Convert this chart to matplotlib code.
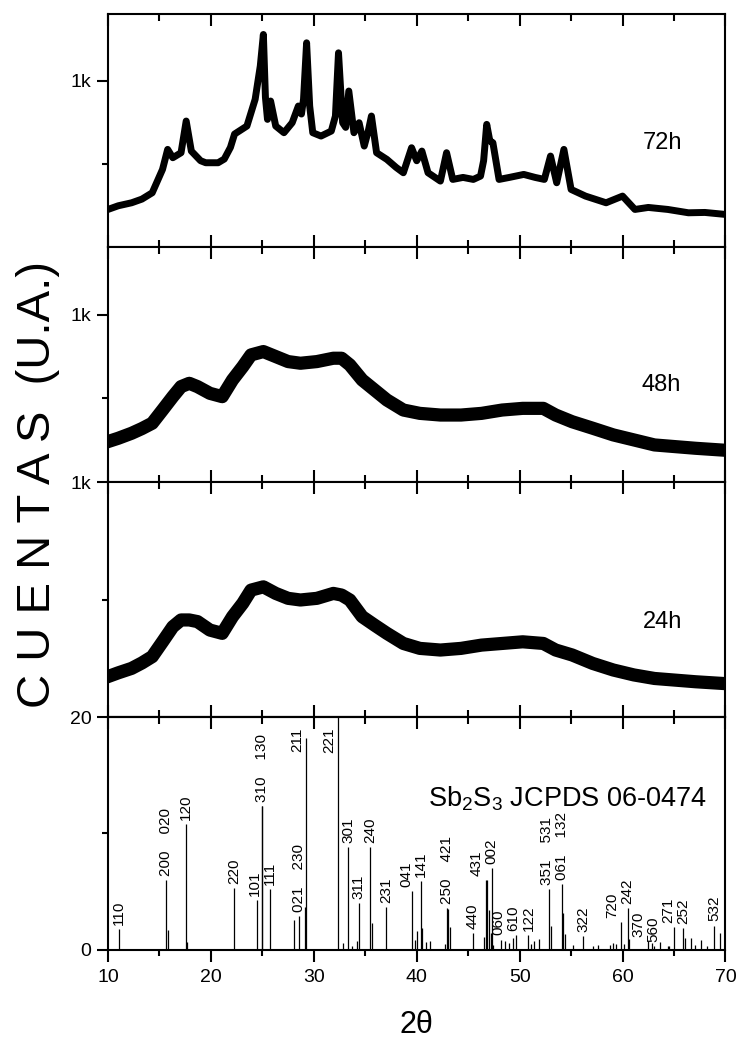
import matplotlib
matplotlib.use('Agg')
import matplotlib.pyplot as plt

plt.rcParams['font.family'] = ['Liberation Sans', 'DejaVu Sans']
plt.rcParams['mathtext.default'] = 'regular'

# 72h pattern
x72 = [10.0, 11.0, 12.3, 13.3, 14.3, 15.3, 15.8, 16.3, 17.1, 17.6, 18.1, 19.0, 19.5, 20.7,
       21.3, 21.9, 22.3, 23.5, 24.3, 24.8, 25.1, 25.3, 25.5, 25.8, 26.3, 27.1, 27.9, 28.5,
       28.8, 29.0, 29.3, 29.6, 29.9, 30.7, 31.7, 32.1, 32.4, 32.8, 33.1, 33.4, 33.9, 34.4,
       34.9, 35.3, 35.6, 36.1, 37.1, 38.0, 38.7, 39.5, 40.0, 40.5, 41.1, 42.3, 42.9, 43.5,
       44.5, 45.5, 46.2, 46.5, 46.8, 47.1, 47.4, 48.0, 49.0, 50.4, 51.5, 52.4, 53.0, 53.6,
       54.3, 55.0, 56.4, 58.4, 60.0, 61.2, 62.5, 64.4, 66.4, 68.0, 70.0]
y72 = [228, 250, 268, 290, 328, 468, 588, 538, 568, 758, 578, 520, 508, 508,
       530, 600, 680, 728, 888, 1088, 1277, 900, 768, 878, 728, 688, 748, 848,
       800, 888, 1227, 848, 688, 668, 698, 788, 1167, 748, 720, 938, 688, 748,
       608, 700, 788, 568, 528, 480, 448, 598, 520, 578, 448, 398, 568, 408,
       420, 408, 428, 520, 738, 640, 628, 408, 420, 438, 420, 408, 548, 388,
       588, 348, 308, 268, 308, 228, 240, 228, 208, 210, 198]

# 48h and 24h patterns
x_am = [10.0, 11.0, 12.3, 13.3, 14.3, 15.3, 16.3, 17.1, 17.9, 18.7, 19.9, 21.1, 22.1, 23.1,
        23.9, 25.1, 26.3, 27.5, 28.7, 30.3, 31.9, 32.7, 33.5, 34.7, 35.9, 37.1, 38.7, 40.3,
        42.3, 44.3, 46.3, 48.3, 50.3, 52.3, 53.5, 55.1, 57.1, 59.1, 61.1, 63.1, 65.1, 67.1, 70.0]
y48 = [242, 262, 292, 320, 352, 431, 511, 571, 591, 571, 531, 511, 611, 691,
       761, 781, 751, 721, 711, 721, 741, 741, 701, 611, 551, 491, 431, 411,
       401, 401, 411, 431, 441, 441, 401, 361, 322, 282, 252, 222, 212, 202, 190]
y24 = [172, 188, 207, 230, 257, 320, 384, 413, 413, 406, 370, 356, 427, 484,
       540, 554, 526, 505, 498, 505, 526, 519, 498, 427, 391, 356, 313, 292,
       285, 292, 306, 313, 320, 313, 285, 264, 228, 200, 179, 164, 157, 150, 142]

# JCPDS 06-0474 sticks
pos = [11.07, 15.62, 15.80, 17.57, 17.67, 22.27, 24.49, 24.93, 25.00, 25.77,
       28.08, 28.53, 29.16, 29.26, 31.62, 32.33, 32.85, 33.37, 33.69, 34.18,
       34.37, 35.50, 35.63, 37.03, 39.55, 39.87, 40.00, 40.43, 40.55, 40.91,
       41.30, 42.72, 42.90, 43.05, 43.24, 45.46, 46.57, 46.74, 46.80, 46.99,
       47.18, 47.30, 47.45, 48.22, 48.60, 48.93, 49.32, 49.60, 50.85, 51.10,
       51.43, 51.85, 52.85, 53.08, 54.12, 54.24, 54.37, 55.15, 56.18, 57.10,
       57.60, 58.80, 59.10, 59.36, 59.84, 60.10, 60.49, 60.62, 62.43, 62.82,
       63.08, 63.63, 64.40, 64.50, 65.02, 65.92, 66.06, 66.64, 67.06, 67.61,
       68.25, 68.90, 69.46]
inten = [1.77, 5.98, 1.68, 10.83, 0.65, 5.3, 4.3, 12.38, 12.38, 5.27,
         2.56, 2.9, 3.7, 18.2, 0.1, 20.0, 0.63, 8.83, 0.34, 0.74,
         4.05, 8.8, 2.34, 3.7, 5.04, 0.9, 1.6, 5.9, 1.9, 0.68,
         0.77, 0.5, 3.62, 3.5, 2.0, 1.48, 1.14, 6.04, 6.04, 3.42,
         1.5, 7.05, 0.4, 0.9, 0.8, 0.6, 1.0, 1.3, 1.3, 0.5,
         0.8, 0.97, 5.25, 2.05, 5.7, 3.15, 1.34, 0.4, 1.2, 0.3,
         0.45, 0.4, 0.6, 0.5, 2.42, 0.54, 3.62, 0.97, 0.8, 0.6,
         0.3, 0.65, 0.3, 0.35, 1.95, 1.9, 1.0, 1.05, 0.4, 0.85,
         0.3, 2.1, 1.5]
hkl = ['110', '200    020', '', '120', '', '220', '101', '310    130', '', '111',
       '', '021    230', '', '211', '', '221', '', '301', '', '',
       '311', '240', '', '231', '041', '', '', '141', '', '',
       '', '', '250    421', '', '', '440', '', '431', '', '',
       '', '002', '', '060', '', '', '', '610', '122', '',
       '', '', '351    531', '', '061    132', '', '', '', '322', '',
       '', '', '', '', '720', '', '242', '', '370', '',
       '', '', '560', '', '271', '252', '', '', '', '',
       '', '532', '']

fig = plt.figure(figsize=(7.39, 10.42), dpi=100)
left, width = 0.1461, 0.8356
bottoms = [0.7625, 0.5374, 0.3119, 0.0883]
tops = [0.9866, 0.7625, 0.5374, 0.3119]
axes = [fig.add_axes([left, b, width, t - b]) for b, t in zip(bottoms, tops)]


def setup(ax, ymax, yt, ylab, ymin_t):
    ax.set_xlim(10, 70)
    ax.set_ylim(0, ymax)
    ax.set_xticks(range(10, 71, 10))
    ax.set_xticks(range(15, 70, 10), minor=True)
    ax.set_yticks(yt)
    ax.set_yticklabels(ylab)
    ax.set_yticks(ymin_t, minor=True)
    for s in ax.spines.values():
        s.set_linewidth(1.5)
    ax.tick_params(axis='y', which='both', direction='out', left=True, right=False,
                   width=1.5, labelsize=14, pad=4)
    ax.tick_params(axis='y', which='major', length=8)
    ax.tick_params(axis='y', which='minor', length=4.5)
    ax.tick_params(axis='x', which='both', direction='in', top=True, bottom=True,
                   width=1.5, labelbottom=False)
    ax.tick_params(axis='x', which='major', length=8.5)
    ax.tick_params(axis='x', which='minor', length=5)


ax1, ax2, ax3, ax4 = axes
setup(ax1, 1400, [1000], ['1k'], [500])
setup(ax2, 1404, [1000], ['1k'], [500])
setup(ax3, 1000, [1000], ['1k'], [500])
setup(ax4, 20, [0, 20], ['0', '20'], [10])

ax1.plot(x72, y72, color='black', lw=5, solid_joinstyle='round')
ax2.plot(x_am, y48, color='black', lw=9.5, solid_joinstyle='round')
ax3.plot(x_am, y24, color='black', lw=9.5, solid_joinstyle='round')

ax1.text(62.0, 626, '72h', fontsize=17, va='center', ha='left')
ax2.text(61.8, 581, '48h', fontsize=17, va='center', ha='left')
ax3.text(62.0, 405, '24h', fontsize=17, va='center', ha='left')

# bottom panel: x ticks out at bottom, in at top
ax4.tick_params(axis='x', which='both', direction='out', top=False, labelbottom=True,
                labelsize=14, pad=5)
ax4.tick_params(axis='x', which='major', length=8.5)
ax4.tick_params(axis='x', which='minor', length=4.5)
sec = ax4.secondary_xaxis('top')
sec.set_xticks(range(10, 71, 10))
sec.set_xticks(range(15, 70, 10), minor=True)
sec.set_xticklabels([])
sec.tick_params(axis='x', which='both', direction='in', width=1.5, labeltop=False)
sec.tick_params(axis='x', which='major', length=8.5)
sec.tick_params(axis='x', which='minor', length=5)
sec.spines['top'].set_linewidth(1.5)

ax4.vlines(pos, 0, inten, color='black', lw=0.9)
ax4.text(41.05, 12.3, 'Sb$_2$S$_3$ JCPDS 06-0474', fontsize=19.5, ha='left', va='baseline')

# hkl labels, placed right to left, nudged left when they collide
renderer = fig.canvas.get_renderer()
inv = ax4.transData.inverted()
ax_bb = ax4.get_window_extent(renderer)
placed = []
for x, h, lab in sorted(zip(pos, inten, hkl), reverse=True):
    if not lab:
        continue
    t = ax4.text(x, h, lab, rotation=90, fontsize=11, ha='center', va='bottom')
    t.set_y(h + 0.35)
    bb = t.get_window_extent(renderer)
    if bb.y1 > ax_bb.y1 - 2:
        t.set_ha('right')
        t.set_va('top')
        xr = inv.transform((ax4.transData.transform((x, 0))[0] - 2, 0))[0]
        t.set_x(xr)
        t.set_y(19.1)
        bb = t.get_window_extent(renderer)
    for _ in range(4):
        hit = [o for o in placed if bb.overlaps(o)]
        if not hit:
            break
        dx = bb.x1 - min(o.x0 for o in hit) + 1
        px = ax4.transData.transform((t.get_position()[0], 0))[0] - dx
        t.set_x(inv.transform((px, 0))[0])
        bb = t.get_window_extent(renderer)
    placed.append(bb)

fig.text(0.0514, 0.5346, 'C U E N T A S  (U.A.)', rotation=90, fontsize=34,
         ha='center', va='center')
fig.text(0.563, 0.0165, '2θ', fontsize=22, ha='center', va='center')

fig.savefig('out.png', dpi=100)
